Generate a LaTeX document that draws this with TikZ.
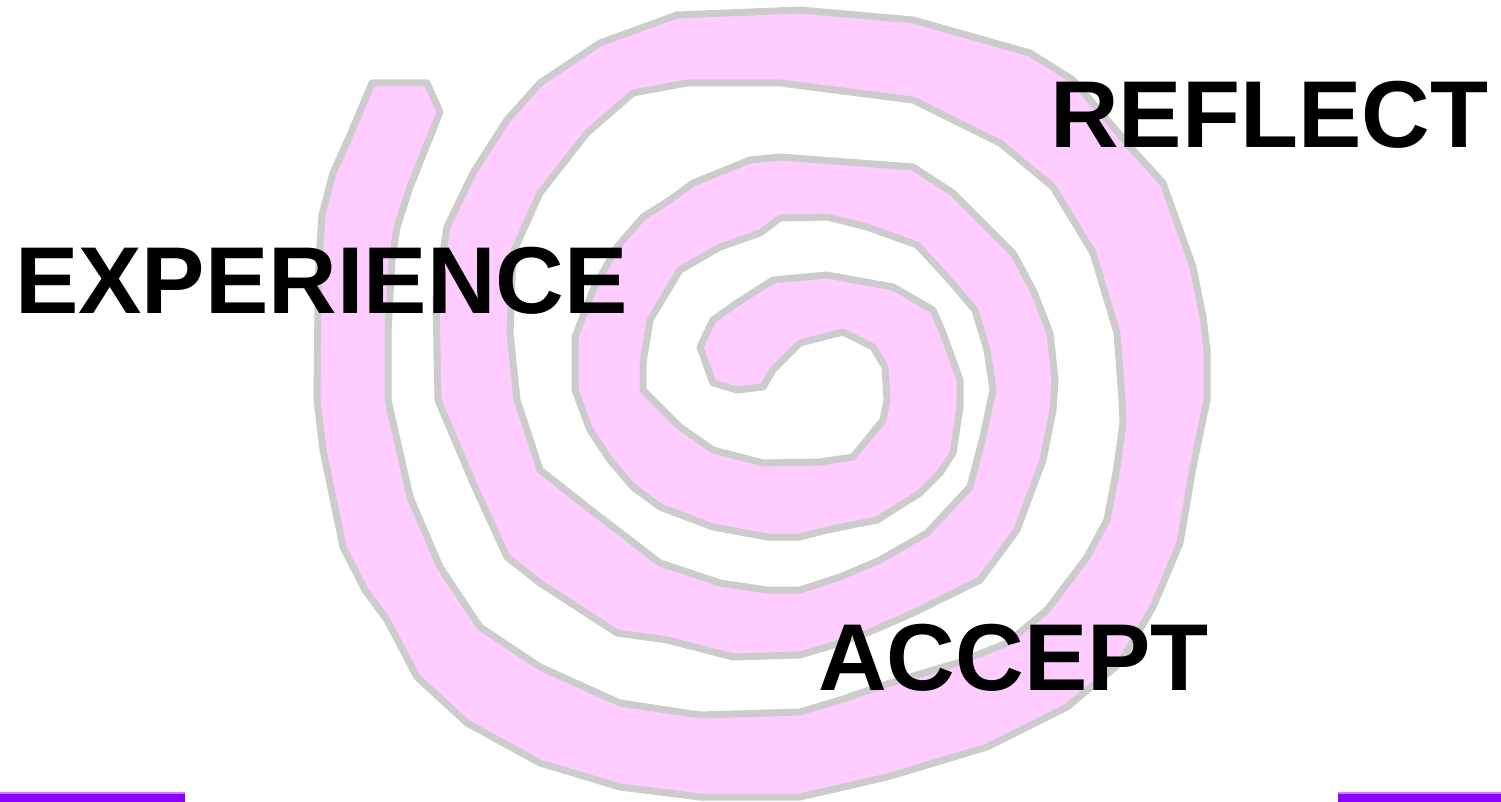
\documentclass[tikz,border=0pt]{standalone}
\usepackage{fontspec}
\setmainfont{Liberation Sans}
\begin{document}
\begin{tikzpicture}[x=0.75pt,y=-0.75pt]
\definecolor{spiralpink}{HTML}{FFCCFF}
\definecolor{spiralgray}{HTML}{CCCCCC}
\definecolor{barpurple}{HTML}{8A00FF}
\definecolor{barlight}{HTML}{DD77FF}
\tikzset{
  spiralband/.style={fill=spiralpink,draw=spiralgray,line width=5.25pt,line join=round},
  bigword/.style={anchor=base west,inner sep=0pt,font=\fontsize{71.25}{80}\selectfont\bfseries},
  purplebar/.style={fill=barpurple,draw=none}
}
\useasboundingbox (0,0) rectangle (1501,802);
\fill[white] (0,0) rectangle (1501,802);
% spiral band: outer edge from tip to centre, cap, inner edge back to tip
\draw[spiralband]
 (372,83) -- (350,135) -- (333,173) -- (322,215) -- (319,260) -- (318,300) -- (317,400)
 -- (323,450) -- (343,547) -- (365,590) -- (387,620) -- (417,677) -- (467,723)
 -- (540,763) -- (620,787) -- (700,797) -- (800,797)
 -- (887,777) -- (987,747) -- (1067,707) -- (1120,663) -- (1153,607) -- (1180,543)
 -- (1193,467) -- (1207,400) -- (1207,350) -- (1203,317) -- (1193,267) -- (1163,183)
 -- (1133,150) -- (1073,80) -- (1030,53) -- (913,20) -- (800,10)
 -- (677,15) -- (600,43) -- (540,83) -- (507,120) -- (473,173) -- (447,227)
 -- (436,300) -- (438,400) -- (473,483) -- (507,557) -- (540,583) -- (617,633)
 -- (667,640) -- (733,657) -- (800,655)
 -- (840,643) -- (867,633) -- (913,613) -- (980,580) -- (1017,530) -- (1043,460)
 -- (1053,410) -- (1055,380) -- (1050,333) -- (1033,290) -- (1013,253) -- (953,193)
 -- (913,167) -- (780,157)
 -- (750,160) -- (693,183) -- (670,200) -- (643,217) -- (617,247) -- (593,290)
 -- (575,337) -- (575,390) -- (590,430) -- (610,460) -- (633,487) -- (660,507)
 -- (713,527) -- (767,537) -- (800,537)
 -- (827,530) -- (877,520) -- (920,493) -- (940,473) -- (953,453) -- (960,407)
 -- (960,380) -- (943,333) -- (933,310) -- (893,287) -- (827,275) -- (773,280)
 -- (737,303) -- (713,320) -- (700,347)
 -- (713,383) -- (737,390) -- (763,387)
 -- (773,370) -- (800,343) -- (843,332) -- (873,347) -- (885,367) -- (887,400)
 -- (883,420) -- (853,457) -- (820,462) -- (763,463) -- (713,450) -- (680,427)
 -- (643,390) -- (643,363) -- (650,320) -- (680,270) -- (720,247) -- (760,233)
 -- (780,218) -- (827,217) -- (867,227) -- (917,245) -- (945,275) -- (975,310)
 -- (987,350) -- (993,390) -- (983,437) -- (970,487) -- (927,533) -- (880,560)
 -- (840,577) -- (800,590) -- (767,590) -- (720,583) -- (660,563) -- (600,517)
 -- (540,470) -- (527,430) -- (517,400) -- (510,333) -- (513,253) -- (540,193)
 -- (587,133) -- (633,93) -- (687,83) -- (780,83) -- (913,100) -- (1000,143)
 -- (1053,187) -- (1093,253) -- (1117,333) -- (1122,400) -- (1123,423) -- (1117,467)
 -- (1107,520) -- (1087,557) -- (1047,610) -- (1007,643) -- (957,663) -- (890,683)
 -- (840,700) -- (800,712) -- (700,715) -- (620,703) -- (540,667) -- (480,627)
 -- (440,567) -- (410,497) -- (388,400) -- (388,333) -- (392,260) -- (397,227)
 -- (410,187) -- (440,112) -- (427,83) -- cycle;
% words
\node[bigword] (reflect) at (1050,148) {REFLECT};
\node[bigword] (experience) at (15,313) {EXPERIENCE};
\node[bigword] (accept) at (818,690) {ACCEPT};
% purple bars
\fill[purplebar] (0,792) rectangle (185,802);
\fill[purplebar] (1338,792) rectangle (1501,802);
\fill[barlight] (0,792) rectangle (185,794);
\fill[barlight] (1338,792) rectangle (1501,794);
\end{tikzpicture}
\end{document}
